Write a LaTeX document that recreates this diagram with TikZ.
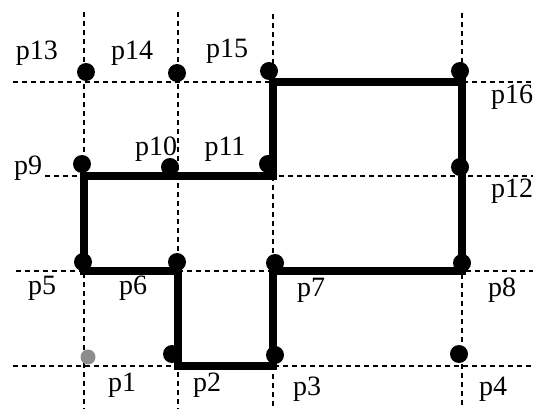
\documentclass[tikz,border=0pt]{standalone}
\usepackage{fontspec}
\setmainfont{Liberation Serif}
\begin{document}
\begin{tikzpicture}[x=1pt,y=-1pt,
  grid/.style={line width=2pt,dash pattern=on 5pt off 4pt},
  outline/.style={line width=8.5pt,line join=miter},
  dot/.style={circle,fill=black,inner sep=0pt,minimum size=18pt},
  graydot/.style={circle,fill=black!45,inner sep=0pt,minimum size=15pt},
  lab/.style={font=\fontsize{28}{30}\selectfont,inner sep=0pt}]
\useasboundingbox (0,0) rectangle (533,409);
% grid coordinates
\coordinate (p1) at (84,366);  \coordinate (p2) at (178,366);
\coordinate (p3) at (273,366); \coordinate (p4) at (462,366);
\coordinate (p5) at (84,271);  \coordinate (p6) at (178,271);
\coordinate (p7) at (273,271); \coordinate (p8) at (462,271);
\coordinate (p9) at (84,176);  \coordinate (p10) at (178,176);
\coordinate (p11) at (273,176);\coordinate (p12) at (462,176);
\coordinate (p13) at (84,82);  \coordinate (p14) at (178,82);
\coordinate (p15) at (273,82); \coordinate (p16) at (462,82);
% dashed grid
\draw[grid] (13,82) -- (533,82);
\draw[grid] (45,176) -- (533,176);
\draw[grid] (16,271) -- (533,271);
\draw[grid] (13,366) -- (533,366);
\draw[grid] (84,12) -- (84,409);
\draw[grid] (178,12) -- (178,409);
\draw[grid] (273,14) -- (273,409);
\draw[grid] (462,13) -- (462,409);
% outline
\draw[outline] (p9) -- (p11) -- (p15) -- (p16) -- (p12) -- (p8) -- (p7)
  -- (p3) -- (p2) -- (p6) -- (p5) -- cycle;
% dots
\node[graydot] (d1) at (88,357) {};
\node[dot] (d2) at (172,354) {};
\node[dot] (d3) at (275,355) {};
\node[dot] (d4) at (459,354) {};
\node[dot] (d5) at (83,262) {};
\node[dot] (d6) at (177,262) {};
\node[dot] (d7) at (275,263) {};
\node[dot] (d8) at (462,263) {};
\node[dot] (d9) at (82,164) {};
\node[dot] (d10) at (170,167) {};
\node[dot] (d11) at (268,164) {};
\node[dot] (d12) at (460,167) {};
\node[dot] (d13) at (86,72) {};
\node[dot] (d14) at (177,73) {};
\node[dot] (d15) at (269,71) {};
\node[dot] (d16) at (460,71) {};
% labels
\node[lab] (l1) at (122,385) {p1};
\node[lab] (l2) at (207,385) {p2};
\node[lab] (l3) at (307,389) {p3};
\node[lab] (l4) at (493,389) {p4};
\node[lab] (l5) at (42,288) {p5};
\node[lab] (l6) at (133,288) {p6};
\node[lab] (l7) at (311,290) {p7};
\node[lab] (l8) at (502,290) {p8};
\node[lab] (l9) at (28,168) {p9};
\node[lab] (l10) at (156,149) {p10};
\node[lab] (l11) at (225,149) {p11};
\node[lab] (l12) at (512,191) {p12};
\node[lab] (l13) at (37,53) {p13};
\node[lab] (l14) at (132,53) {p14};
\node[lab] (l15) at (227,51) {p15};
\node[lab] (l16) at (512,97) {p16};
\end{tikzpicture}
\end{document}
